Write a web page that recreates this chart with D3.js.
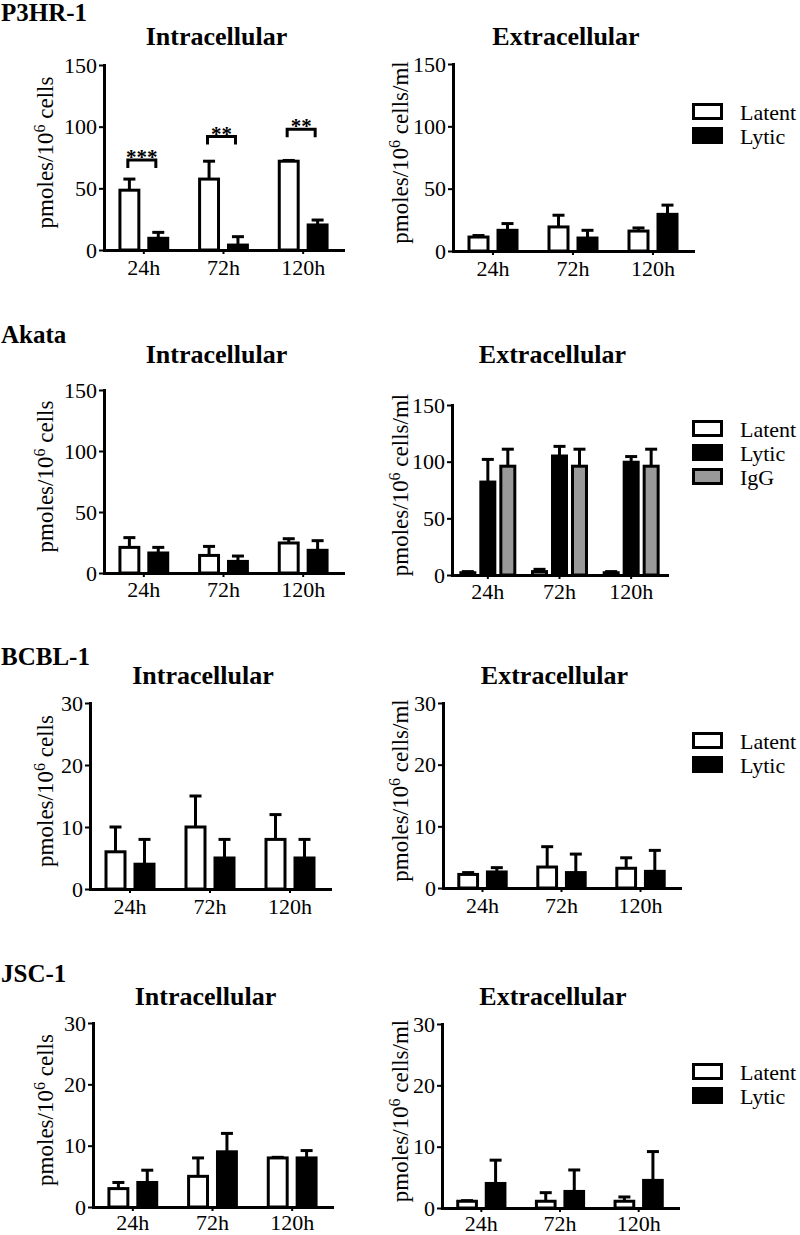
<!DOCTYPE html>
<html><head><meta charset="utf-8">
<script src="https://cdn.jsdelivr.net/npm/d3@7"></script>
<style>
body{margin:0;background:#fff}
svg{display:block}
</style>
</head><body>
<svg id="chart" width="800" height="1235"></svg>
<script>
// ---------- data ----------
const times = ["24h", "72h", "120h"];
const seriesTwo = ["Latent", "Lytic"];
const seriesThree = ["Latent", "Lytic", "IgG"];
const cellLines = ["P3HR-1", "Akata", "BCBL-1", "JSC-1"];
const panelTitles = ["Intracellular", "Extracellular"];
const yTicksHigh = [0, 50, 100, 150];
const yTicksLow = [0, 10, 20, 30];

// P3HR-1
const p3hrIntraLatent = [48.5, 57.5, 72];
const p3hrIntraLatentSem = [9, 14.5, 0.6];
const p3hrIntraLytic = [9.5, 4, 20.3];
const p3hrIntraLyticSem = [4.8, 6.8, 4];
const p3hrExtraLatent = [11.2, 19.3, 16];
const p3hrExtraLatentSem = [1.2, 9.4, 2.5];
const p3hrExtraLytic = [16.6, 10.4, 29.4];
const p3hrExtraLyticSem = [5.4, 6.2, 7.4];
const p3hrSigLabels = ["***", "**", "**"];
const p3hrSigLevels = [73, 92, 98];

// Akata
const akataIntraLatent = [21, 14.4, 24.6];
const akataIntraLatentSem = [8, 7.4, 3.5];
const akataIntraLytic = [16.4, 9.5, 18.6];
const akataIntraLyticSem = [4.6, 4.4, 7.9];
const akataExtraLatent = [2, 3, 2];
const akataExtraLatentSem = [1, 2, 1];
const akataExtraLytic = [82, 105, 99.5];
const akataExtraLyticSem = [20, 8.5, 5];
const akataExtraIgG = [96, 96, 96];
const akataExtraIgGSem = [15, 15, 15];

// BCBL-1
const bcblIntraLatent = [6, 10, 8];
const bcblIntraLatentSem = [4, 5, 4];
const bcblIntraLytic = [4, 5, 5];
const bcblIntraLyticSem = [4, 3, 3];
const bcblExtraLatent = [2.2, 3.4, 3.2];
const bcblExtraLatentSem = [0.3, 3.3, 1.7];
const bcblExtraLytic = [2.6, 2.5, 2.7];
const bcblExtraLyticSem = [0.7, 3.0, 3.4];

// JSC-1
const jscIntraLatent = [3, 5, 8];
const jscIntraLatentSem = [1, 3, 0.1];
const jscIntraLytic = [4, 9, 8];
const jscIntraLyticSem = [2, 3, 1.2];
const jscExtraLatent = [1.1, 1.1, 1.1];
const jscExtraLatentSem = [0.1, 1.4, 0.7];
const jscExtraLytic = [4, 2.7, 4.5];
const jscExtraLyticSem = [3.8, 3.5, 4.7];

// ---------- panel definitions ----------
const FONT = "'Liberation Serif', Tinos, 'DejaVu Serif', serif";
const fills = {Latent: "#ffffff", Lytic: "#000000", IgG: "#999999"};

const panels = [
  {line: 0, side: 0, series: seriesTwo, values: [p3hrIntraLatent, p3hrIntraLytic], sems: [p3hrIntraLatentSem, p3hrIntraLyticSem], ticks: yTicksHigh, sig: {labels: p3hrSigLabels, levels: p3hrSigLevels}},
  {line: 0, side: 1, series: seriesTwo, values: [p3hrExtraLatent, p3hrExtraLytic], sems: [p3hrExtraLatentSem, p3hrExtraLyticSem], ticks: yTicksHigh},
  {line: 1, side: 0, series: seriesTwo, values: [akataIntraLatent, akataIntraLytic], sems: [akataIntraLatentSem, akataIntraLyticSem], ticks: yTicksHigh},
  {line: 1, side: 1, series: seriesThree, values: [akataExtraLatent, akataExtraLytic, akataExtraIgG], sems: [akataExtraLatentSem, akataExtraLyticSem, akataExtraIgGSem], ticks: yTicksHigh},
  {line: 2, side: 0, series: seriesTwo, values: [bcblIntraLatent, bcblIntraLytic], sems: [bcblIntraLatentSem, bcblIntraLyticSem], ticks: yTicksLow},
  {line: 2, side: 1, series: seriesTwo, values: [bcblExtraLatent, bcblExtraLytic], sems: [bcblExtraLatentSem, bcblExtraLyticSem], ticks: yTicksLow},
  {line: 3, side: 0, series: seriesTwo, values: [jscIntraLatent, jscIntraLytic], sems: [jscIntraLatentSem, jscIntraLyticSem], ticks: yTicksLow},
  {line: 3, side: 1, series: seriesTwo, values: [jscExtraLatent, jscExtraLytic], sems: [jscExtraLatentSem, jscExtraLyticSem], ticks: yTicksLow}
];

// layout (pixel geometry) per panel
const layouts = [
  {ax: 104, y0: 250, yTop: 65, w: 239, gp: 0.4, bp: 0.345},
  {ax: 453, y0: 251, yTop: 64, w: 240, gp: 0.4, bp: 0.345},
  {ax: 104, y0: 573, yTop: 390, w: 239, gp: 0.4, bp: 0.345},
  {ax: 452, y0: 575, yTop: 405, w: 215, gp: 0.247, bp: 0.3},
  {ax: 90, y0: 889, yTop: 703, w: 240, gp: 0.4, bp: 0.345},
  {ax: 443, y0: 888, yTop: 703, w: 237, gp: 0.4, bp: 0.345},
  {ax: 93, y0: 1207, yTop: 1023, w: 239, gp: 0.4, bp: 0.345},
  {ax: 442, y0: 1208, yTop: 1024, w: 236, gp: 0.4, bp: 0.345}
];
const rowText = [
  {name: 21, title: 45, legend: 103, xpad: 5},
  {name: 343, title: 363, legend: 420, xpad: 4},
  {name: 665, title: 684, legend: 732, xpad: 5},
  {name: 982, title: 1005, legend: 1063, xpad: 3}
];

const svg = d3.select("#chart");
const SW = 3;

function txt(sel, size, bold) {
  return sel.attr("font-family", FONT).attr("font-size", size + "px")
    .attr("font-weight", bold ? "bold" : "normal").attr("fill", "#000");
}

function styleAxis(sel) {
  sel.attr("font-family", FONT).attr("font-size", "22px");
  sel.select(".domain").attr("stroke", "#000").attr("stroke-width", SW).attr("stroke-linecap", "square");
  sel.selectAll(".tick line").attr("stroke", "#000").attr("stroke-width", 2);
  sel.selectAll(".tick text").attr("fill", "#000");
}

panels.forEach((p, i) => {
  const L = layouts[i];
  const R = rowText[p.line];
  const g = svg.append("g");
  const y = d3.scaleLinear().domain([0, d3.max(p.ticks)]).range([L.y0, L.yTop]);
  const x0 = d3.scaleBand().domain(times).range([L.ax, L.ax + L.w]).paddingInner(L.gp).paddingOuter(L.gp / 2);
  const x1 = d3.scaleBand().domain(p.series).range([0, x0.bandwidth()]).paddingInner(L.bp);

  // cell line name + panel title
  if (p.side === 0) {
    txt(svg.append("text"), 25, true).attr("x", 1).attr("y", R.name).text(cellLines[p.line]);
  }
  txt(svg.append("text"), 26, true).attr("x", L.ax + L.w / 2 - 7).attr("y", R.title)
    .attr("text-anchor", "middle").text(panelTitles[p.side]);

  // bars + error bars
  p.series.forEach((s, si) => {
    times.forEach((t, ti) => {
      const v = p.values[si][ti], e = p.sems[si][ti];
      const bx = x0(t) + x1(s), bw = x1.bandwidth(), cx = bx + bw / 2;
      g.append("line").attr("x1", cx).attr("x2", cx).attr("y1", y(v)).attr("y2", y(v + e))
        .attr("stroke", "#000").attr("stroke-width", SW);
      g.append("line").attr("x1", cx - 6).attr("x2", cx + 6).attr("y1", y(v + e)).attr("y2", y(v + e))
        .attr("stroke", "#000").attr("stroke-width", SW);
      g.append("rect").attr("x", bx).attr("width", bw).attr("y", y(v)).attr("height", y(0) - y(v))
        .attr("fill", fills[s]).attr("stroke", "#000").attr("stroke-width", SW);
    });
  });

  // significance brackets
  if (p.sig) {
    times.forEach((t, ti) => {
      const c = x0(t) + x0.bandwidth() / 2 - 2;
      const yy = y(p.sig.levels[ti]);
      g.append("path").attr("d", `M${c - 14},${yy + 8}V${yy}H${c + 14}V${yy + 8}`)
        .attr("fill", "none").attr("stroke", "#000").attr("stroke-width", SW);
      txt(g.append("text"), 21, true).attr("x", c).attr("y", yy + 4).attr("text-anchor", "middle")
        .text(p.sig.labels[ti]);
    });
  }

  // axes
  const ya = g.append("g").attr("transform", `translate(${L.ax},0)`)
    .call(d3.axisLeft(y).tickValues(p.ticks).tickSize(5).tickSizeOuter(0).tickPadding(2));
  styleAxis(ya);
  const xa = g.append("g").attr("transform", `translate(0,${L.y0})`)
    .call(d3.axisBottom(x0).tickSize(4).tickSizeOuter(0).tickPadding(R.xpad));
  styleAxis(xa);

  // y-axis label
  const lx = p.side === 0 ? 53 : 408;
  const ly = (L.y0 + L.yTop) / 2 - 5;
  const lab = txt(g.append("text"), 23, false)
    .attr("transform", `translate(${lx},${ly}) rotate(-90)`).attr("text-anchor", "middle");
  lab.append("tspan").text("pmoles/10");
  lab.append("tspan").attr("dy", -8).attr("font-size", "16px").text("6");
  lab.append("tspan").attr("dy", 8).text(p.side === 0 ? " cells" : " cells/ml");

  // legend
  if (p.side === 1) {
    p.series.forEach((s, si) => {
      const top = R.legend + si * 24;
      g.append("rect").attr("x", 693.5).attr("y", top + 1.5).attr("width", 28).attr("height", 14)
        .attr("fill", fills[s]).attr("stroke", "#000").attr("stroke-width", SW);
      txt(g.append("text"), 22, false).attr("x", 740).attr("y", top + 9).attr("dy", "0.35em").text(s);
    });
  }
});
</script>
</body></html>
